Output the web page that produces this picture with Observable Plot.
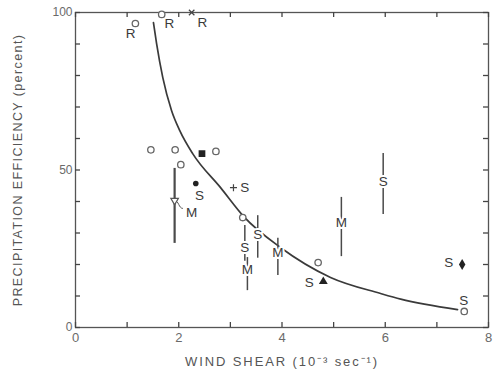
<!DOCTYPE html>
<html>
<head>
<meta charset="utf-8">
<script src="https://cdn.jsdelivr.net/npm/d3@7"></script>
<script src="https://cdn.jsdelivr.net/npm/@observablehq/plot@0.6"></script>
<style>
  html, body { margin: 0; padding: 0; background: #fff; }
  #chart { width: 494px; height: 373px; }
</style>
</head>
<body>
<div id="chart"></div>
<script>
// ---- data ----
const xTicks = [0, 1, 2, 3, 4, 5, 6, 7, 8];
const xTickLabels = [0, 2, 4, 6, 8];
const yTicks = [0, 10, 20, 30, 40, 50, 60, 70, 80, 90, 100];
const yTickLabels = [0, 50, 100];

// fitted curve
const curveShear = [1.51, 1.57, 1.69, 1.86, 2.02, 2.27, 2.81, 3.26, 3.97, 4.94, 5.91, 6.30, 7.40];
const curveEff   = [96.8, 90.2, 79.4, 68.9, 62.5, 55.2, 44.4, 35.2, 25.4, 15.9, 10.8, 9.0, 5.7];

// open circles
const openShear = [1.16, 1.67, 1.46, 1.93, 2.72, 2.04, 3.24, 4.70, 7.53];
const openEff   = [96.5, 99.4, 56.4, 56.4, 55.9, 51.7, 34.9, 20.6, 5.1];

// filled symbols
const squareShear = [2.45];  const squareEff = [55.2];
const dotShear = [2.33];     const dotEff = [45.7];
const plusShear = [3.06];    const plusEff = [44.4];
const crossShear = [2.25];   const crossEff = [100];
const triShear = [4.80];     const triEff = [14.6];
const diamondShear = [7.49]; const diamondEff = [20.0];
const openTriShear = [1.92]; const openTriEff = [40.3];

// vertical ranges (error bars)
const barShear = [1.92, 3.28, 3.33, 3.53, 3.92, 5.15, 5.96];
const barLow   = [26.7, 21.0, 11.7, 22.0, 16.5, 22.5, 35.9];
const barHigh  = [50.5, 32.4, 22.2, 35.5, 28.3, 41.3, 55.2];

// letters on the bars
const barLetter = ["S", "M", "S", "M", "M", "S"];
const barLetterShear = [3.28, 3.33, 3.53, 3.92, 5.15, 5.96];
const barLetterEff   = [25.4, 18.5, 29.5, 23.8, 33.3, 46.3];

// free letters beside symbols
const letter = ["R", "R", "R", "S", "S", "M", "S", "S", "S"];
const letterShear = [1.07, 1.82, 2.46, 2.40, 3.28, 2.25, 4.53, 7.23, 7.52];
const letterEff   = [93.3, 96.5, 96.8, 41.9, 44.4, 36.5, 14.3, 20.6, 8.6];

// short leader from the open triangle to its "M"
const leaderFrom = [[1.92, 40.3]];
const leaderTo   = [[2.08, 37.8]];

// ---- layout (pixels) ----
const W = 494, H = 373, ML = 75, MR = 6, MT = 12, MB = 46;
const innerW = W - ML - MR, innerH = H - MT - MB;
const tl = 5; // tick length in px
const xDomain = [0, 8], yDomain = [0, 100];
// tick length converted to data units so the ticks are drawn through the scales
const tY = tl / innerH * (yDomain[1] - yDomain[0]);
const tX = tl / innerW * (xDomain[1] - xDomain[0]);

// ---- build tables ----
const zip = (a, b) => a.map((v, i) => ({x: v, y: b[i]}));
const curve = zip(curveShear, curveEff);
const bars = barShear.map((x, i) => ({x, lo: barLow[i], hi: barHigh[i], w: i === 0 ? 2.2 : 1.5}));
const barLetters = barLetter.map((t, i) => ({t, x: barLetterShear[i], y: barLetterEff[i]}));
const letters = letter.map((t, i) => ({t, x: letterShear[i], y: letterEff[i]}));
const leaders = leaderFrom.map((f, i) => ({x1: f[0], y1: f[1], x2: leaderTo[i][0], y2: leaderTo[i][1]}));

const ink = "#3a3a3a";
const gray = "#6a6a6a";
const font = "'Liberation Sans', Arial, sans-serif";

const chart = Plot.plot({
  width: W,
  height: H,
  marginLeft: ML,
  marginRight: MR,
  marginTop: MT,
  marginBottom: MB,
  x: {domain: xDomain},
  y: {domain: yDomain},
  style: {fontFamily: font, background: "#fff", color: gray},
  marks: [
    Plot.frame({stroke: "#555", strokeWidth: 1.3}),
    // inward ticks on all four sides
    Plot.ruleX(xTicks, {x: d => d, y1: yDomain[0], y2: yDomain[0] + tY, stroke: "#444", strokeWidth: 1.3}),
    Plot.ruleX(xTicks, {x: d => d, y1: yDomain[1] - tY, y2: yDomain[1], stroke: "#444", strokeWidth: 1.3}),
    Plot.ruleY(yTicks, {y: d => d, x1: xDomain[0], x2: xDomain[0] + tX, stroke: "#444", strokeWidth: 1.3}),
    Plot.ruleY(yTicks, {y: d => d, x1: xDomain[1] - tX, x2: xDomain[1], stroke: "#444", strokeWidth: 1.3}),
    // tick labels
    Plot.axisX(xTickLabels, {anchor: "bottom", tickSize: 0, tickPadding: 5, fontSize: 13, fill: gray,
      label: "WIND SHEAR (10⁻³ sec⁻¹)", labelAnchor: "center", labelArrow: "none", labelOffset: 38}),
    Plot.axisY(yTickLabels, {anchor: "left", tickSize: 0, tickPadding: 3, fontSize: 12, fill: gray,
      label: "PRECIPITATION EFFICIENCY (percent)", labelAnchor: "center", labelArrow: "none", labelOffset: 62}),
    // fitted curve
    Plot.line(curve, {x: "x", y: "y", curve: "monotone-x", stroke: ink, strokeWidth: 1.7}),
    // vertical ranges
    Plot.ruleX(bars, {x: "x", y1: "lo", y2: "hi", stroke: "#4a4a4a", strokeWidth: "w"}),
    // leader
    Plot.link(leaders, {x1: "x1", y1: "y1", x2: "x2", y2: "y2", stroke: "#555", strokeWidth: 1, curve: "bump-x"}),
    // symbols
    Plot.dot(zip(openShear, openEff), {x: "x", y: "y", r: 3.2, stroke: "#666", strokeWidth: 1.3, fill: "#fff"}),
    Plot.dot(zip(openTriShear, openTriEff), {x: "x", y: "y", symbol: "triangle2", r: 3.6, rotate: 180, stroke: "#555", strokeWidth: 1.2, fill: "#fff"}),
    Plot.dot(zip(squareShear, squareEff), {x: "x", y: "y", symbol: "square", r: 3.8, fill: "#222"}),
    Plot.dot(zip(dotShear, dotEff), {x: "x", y: "y", r: 2.8, fill: "#222"}),
    Plot.dot(zip(triShear, triEff), {x: "x", y: "y", symbol: "triangle", r: 3.3, fill: "#222"}),
    Plot.dot(zip(diamondShear, diamondEff), {x: "x", y: "y", symbol: "diamond", r: 3.4, fill: "#222"}),
    Plot.dot(zip(plusShear, plusEff), {x: "x", y: "y", symbol: "plus", r: 2.4, stroke: "#444", strokeWidth: 1.2}),
    Plot.dot(zip(crossShear, crossEff), {x: "x", y: "y", symbol: "times", r: 2.6, stroke: "#444", strokeWidth: 1.2}),
    // letters
    Plot.text(barLetters, {x: "x", y: "y", text: "t", fontSize: 13.5, fill: ink, stroke: "#fff", strokeWidth: 4}),
    Plot.text(letters, {x: "x", y: "y", text: "t", fontSize: 13.5, fill: ink})
  ]
});

chart.querySelectorAll("[aria-label='x-axis label'] text").forEach(t => {
  t.setAttribute("font-size", "13");
  t.setAttribute("letter-spacing", "1.9");
  t.setAttribute("fill", "#555");
});
chart.querySelectorAll("[aria-label='y-axis label'] text").forEach(t => {
  t.setAttribute("font-size", "12.5");
  t.setAttribute("letter-spacing", "1.4");
  t.setAttribute("fill", "#555");
});

document.getElementById("chart").appendChild(chart);
</script>
</body>
</html>
